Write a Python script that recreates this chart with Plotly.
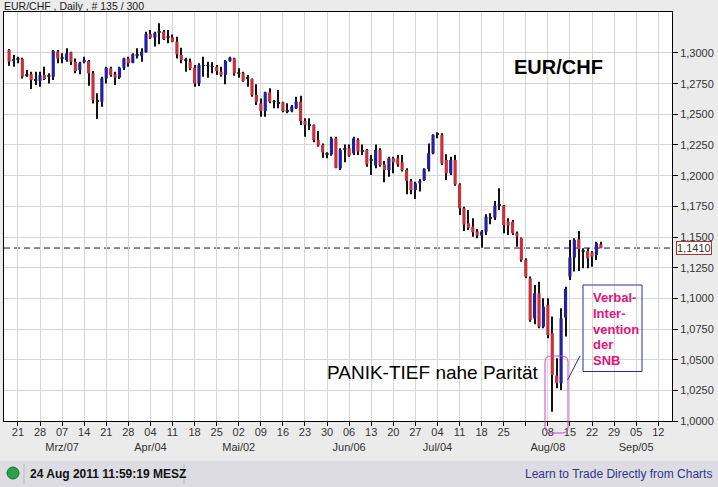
import plotly.graph_objects as go
import pandas as pd

# ---------------- data ----------------
start_date = "2011-02-17"
end_date = "2011-08-24"
axis_end_date = "2011-09-16"

open_ = [1.3024, 1.2935, 1.2952, 1.2951, 1.2820, 1.2826, 1.2782, 1.2771, 1.2820, 1.2806,
         1.2807, 1.3011, 1.2958, 1.2943, 1.3005, 1.2929, 1.2861, 1.2930, 1.2935, 1.2834,
         1.2610, 1.2603, 1.2793, 1.2875, 1.2826, 1.2799, 1.2880, 1.2956, 1.2921, 1.2978,
         1.2978, 1.3005, 1.3155, 1.3125, 1.3174, 1.3174, 1.3130, 1.3128, 1.3092, 1.2984,
         1.2945, 1.2929, 1.2880, 1.2752, 1.2899, 1.2899, 1.2886, 1.2888, 1.2848, 1.2821,
         1.2935, 1.2956, 1.2836, 1.2834, 1.2795, 1.2788, 1.2658, 1.2590, 1.2527, 1.2679,
         1.2605, 1.2592, 1.2598, 1.2529, 1.2527, 1.2549, 1.2603, 1.2446, 1.2415, 1.2413,
         1.2291, 1.2250, 1.2179, 1.2174, 1.2304, 1.2060, 1.2215, 1.2223, 1.2182, 1.2291,
         1.2199, 1.2209, 1.2130, 1.2082, 1.2209, 1.2092, 1.2046, 1.2141, 1.2141, 1.2109,
         1.2046, 1.1957, 1.1883, 1.1938, 1.1965, 1.2054, 1.2182, 1.2335, 1.2331, 1.2128,
         1.2019, 1.2128, 1.1929, 1.1734, 1.1612, 1.1584, 1.1544, 1.1511, 1.1544, 1.1650,
         1.1658, 1.1763, 1.1755, 1.1625, 1.1625, 1.1530, 1.1489, 1.1313, 1.1163, 1.0837,
         1.1041, 1.0769, 1.0946, 1.0715, 1.0370, 1.0307, 1.0843, 1.1177, 1.1332, 1.1481,
         1.1388, 1.1386, 1.1375, 1.1353, 1.1440]
high_ = [1.3033, 1.2984, 1.2970, 1.2962, 1.2861, 1.2848, 1.2848, 1.2848, 1.2888, 1.2834,
         1.3024, 1.3024, 1.2997, 1.3038, 1.3011, 1.2956, 1.2929, 1.2970, 1.2943, 1.2853,
         1.2671, 1.2807, 1.2888, 1.2888, 1.2848, 1.2888, 1.2962, 1.2970, 1.2997, 1.3038,
         1.3038, 1.3174, 1.3188, 1.3174, 1.3242, 1.3188, 1.3188, 1.3150, 1.3133, 1.3043,
         1.2962, 1.2956, 1.2902, 1.2916, 1.2970, 1.2929, 1.2924, 1.2902, 1.2888, 1.2943,
         1.2970, 1.2962, 1.2875, 1.2848, 1.2821, 1.2793, 1.2745, 1.2630, 1.2685, 1.2712,
         1.2617, 1.2698, 1.2603, 1.2590, 1.2576, 1.2644, 1.2652, 1.2467, 1.2467, 1.2418,
         1.2364, 1.2263, 1.2190, 1.2318, 1.2318, 1.2223, 1.2255, 1.2255, 1.2318, 1.2304,
         1.2255, 1.2217, 1.2168, 1.2255, 1.2223, 1.2120, 1.2155, 1.2155, 1.2168, 1.2168,
         1.2060, 1.1973, 1.1951, 1.1973, 1.2060, 1.2263, 1.2337, 1.2353, 1.2345, 1.2174,
         1.2155, 1.2168, 1.1938, 1.1747, 1.1720, 1.1652, 1.1565, 1.1557, 1.1685, 1.1693,
         1.1794, 1.1897, 1.1761, 1.1652, 1.1639, 1.1544, 1.1495, 1.1326, 1.1177, 1.1109,
         1.1136, 1.1000, 1.1000, 1.0851, 1.0511, 1.0919, 1.1095, 1.1476, 1.1489, 1.1549,
         1.1408, 1.1408, 1.1386, 1.1462, 1.1462]
low_ = [1.2897, 1.2888, 1.2916, 1.2793, 1.2807, 1.2706, 1.2739, 1.2725, 1.2780, 1.2752,
        1.2780, 1.2916, 1.2916, 1.2929, 1.2902, 1.2834, 1.2826, 1.2916, 1.2733, 1.2589,
        1.2461, 1.2562, 1.2752, 1.2807, 1.2739, 1.2788, 1.2861, 1.2888, 1.2916, 1.2956,
        1.2929, 1.3005, 1.3114, 1.3052, 1.3071, 1.3106, 1.3079, 1.3087, 1.2956, 1.2916,
        1.2848, 1.2861, 1.2725, 1.2731, 1.2807, 1.2799, 1.2834, 1.2821, 1.2807, 1.2745,
        1.2929, 1.2815, 1.2799, 1.2766, 1.2725, 1.2644, 1.2576, 1.2481, 1.2481, 1.2590,
        1.2549, 1.2549, 1.2516, 1.2508, 1.2516, 1.2543, 1.2413, 1.2318, 1.2372, 1.2272,
        1.2236, 1.2147, 1.2141, 1.2163, 1.2060, 1.2046, 1.2109, 1.2155, 1.2168, 1.2168,
        1.2168, 1.2073, 1.2005, 1.2060, 1.2073, 1.1946, 1.1992, 1.2019, 1.2073, 1.2033,
        1.1848, 1.1848, 1.1810, 1.1870, 1.1957, 1.2033, 1.2174, 1.2304, 1.2087, 1.1965,
        1.2005, 1.1918, 1.1679, 1.1549, 1.1557, 1.1503, 1.1489, 1.1413, 1.1516, 1.1603,
        1.1639, 1.1720, 1.1530, 1.1516, 1.1516, 1.1421, 1.1299, 1.1163, 1.0810, 1.0788,
        1.0756, 1.0756, 1.0674, 1.0076, 1.0267, 1.0253, 1.0688, 1.1150, 1.1218, 1.1223,
        1.1245, 1.1245, 1.1258, 1.1313, 1.1408]
close_ = [1.2929, 1.2948, 1.2949, 1.2807, 1.2816, 1.2780, 1.2778, 1.2820, 1.2788, 1.2809,
          1.3016, 1.2956, 1.2954, 1.2997, 1.2929, 1.2853, 1.2916, 1.2937, 1.2834, 1.2616,
          1.2605, 1.2793, 1.2880, 1.2820, 1.2799, 1.2880, 1.2956, 1.2916, 1.2989, 1.2982,
          1.3011, 1.3155, 1.3125, 1.3160, 1.3170, 1.3114, 1.3127, 1.3092, 1.2989, 1.2943,
          1.2940, 1.2875, 1.2752, 1.2902, 1.2895, 1.2895, 1.2890, 1.2853, 1.2821, 1.2935,
          1.2962, 1.2834, 1.2832, 1.2772, 1.2791, 1.2658, 1.2603, 1.2527, 1.2679, 1.2603,
          1.2601, 1.2588, 1.2527, 1.2525, 1.2562, 1.2603, 1.2446, 1.2413, 1.2411, 1.2291,
          1.2245, 1.2190, 1.2175, 1.2304, 1.2065, 1.2209, 1.2219, 1.2163, 1.2304, 1.2196,
          1.2203, 1.2092, 1.2125, 1.2209, 1.2087, 1.2046, 1.2141, 1.2109, 1.2092, 1.2046,
          1.1957, 1.1883, 1.1938, 1.1957, 1.2054, 1.2182, 1.2331, 1.2339, 1.2101, 1.2019,
          1.2128, 1.1929, 1.1734, 1.1603, 1.1576, 1.1538, 1.1511, 1.1544, 1.1666, 1.1654,
          1.1755, 1.1759, 1.1598, 1.1592, 1.1530, 1.1503, 1.1313, 1.1177, 1.0824, 1.1041,
          1.0769, 1.0932, 1.0701, 1.0375, 1.0307, 1.0837, 1.1076, 1.1332, 1.1476, 1.1402,
          1.1384, 1.1326, 1.1340, 1.1449, 1.1410]

last_price = 1.1410

tick_labels = ["21", "28", "07", "14", "21", "28", "04", "11", "18", "25",
               "02", "09", "16", "23", "30", "06", "13", "20", "27", "04",
               "11", "18", "25", "", "08", "15", "22", "29", "05", "12"]
month_labels = ["", "", "Mrz/07", "", "", "", "Apr/04", "", "", "",
                "Mai/02", "", "", "", "", "Jun/06", "", "", "", "Jul/04",
                "", "", "", "", "Aug/08", "", "", "", "Sep/05", ""]

y_tick_vals = [1.0, 1.025, 1.05, 1.075, 1.1, 1.125, 1.15, 1.175,
               1.2, 1.225, 1.25, 1.275, 1.3]

# ---------------- derived ----------------
days = pd.bdate_range(start_date, end_date)
idx = list(range(len(days)))
axis_days = pd.bdate_range(start_date, axis_end_date)
monday_idx = [i for i, d in enumerate(axis_days) if d.weekday() == 0]
tick_text = [t + ("<br>" + m if m else "<br> ") for t, m in zip(tick_labels, month_labels)]

RED = "#c8303a"
BLUE = "#22229c"
body_base = [min(o, c) for o, c in zip(open_, close_)]
body_h = [max(abs(c - o), 0.0007) for o, c in zip(open_, close_)]
body_col = []
for o, c in zip(open_, close_):
    if abs(c - o) < 0.0006:
        body_col.append("#222222")
    elif c > o:
        body_col.append(BLUE)
    else:
        body_col.append(RED)

# layout geometry (pixels)
W, H = 718, 487
PL, PR, PT, PB = 4, 672, 12, 421


def xp(px):
    return (px - PL) / (PR - PL)


def yp(py):
    return (PB - py) / (PB - PT)


FONT = "Liberation Sans, Arial, sans-serif"

fig = go.Figure()
fig.add_trace(go.Bar(x=idx, base=low_, y=[h - l for h, l in zip(high_, low_)],
                     width=0.23, marker=dict(color="#111111", line=dict(width=0)),
                     hoverinfo="skip", showlegend=False))
fig.add_trace(go.Bar(x=idx, base=body_base, y=body_h, width=0.72,
                     marker=dict(color=body_col, line=dict(width=0)),
                     showlegend=False))

fig.update_layout(
    width=W, height=H,
    margin=dict(l=PL, r=W - PR, t=PT, b=H - PB, pad=0),
    paper_bgcolor="#ebebeb", plot_bgcolor="white",
    barmode="overlay", separators=",.",
    font=dict(family=FONT, size=11, color="#333333"),
    xaxis=dict(range=[(PL - 9.1) / 4.416, (PR - 9.1) / 4.416],
               tickmode="array", tickvals=monday_idx, ticktext=tick_text, tickangle=0,
               ticklabelstandoff=-3,
               showgrid=True, gridcolor="#d6d6d6", gridwidth=1,
               showline=True, linecolor="#000000", linewidth=1, mirror=True,
               ticks="outside", ticklen=4, tickcolor="#000000",
               tickfont=dict(family=FONT, size=11, color="#333333"),
               zeroline=False, fixedrange=True, automargin=False),
    yaxis=dict(range=[1.0, 1.0 + (PB - PT) / 1226.7], side="right",
               tickmode="array", tickvals=y_tick_vals, tickformat=".4f",
               showgrid=True, gridcolor="#d6d6d6", gridwidth=1,
               showline=True, linecolor="#000000", linewidth=1, mirror=True,
               ticks="outside", ticklen=5, tickcolor="#000000",
               tickfont=dict(family=FONT, size=11, color="#333333"),
               zeroline=False, fixedrange=True, automargin=False),
)

shapes = []
# status bar
shapes.append(dict(type="rect", xref="paper", yref="paper", x0=xp(0), x1=xp(W),
                   y0=yp(H), y1=yp(461), fillcolor="#dcdce2", line=dict(width=0), layer="below"))
shapes.append(dict(type="line", xref="paper", yref="paper", x0=xp(24), x1=xp(24),
                   y0=yp(464), y1=yp(484), line=dict(color="#b8b8c0", width=1)))
shapes.append(dict(type="line", xref="paper", yref="paper", x0=xp(184), x1=xp(184),
                   y0=yp(464), y1=yp(484), line=dict(color="#b8b8c0", width=1)))
shapes.append(dict(type="circle", xref="paper", yref="paper", x0=xp(7), x1=xp(19),
                   y0=yp(479), y1=yp(467), fillcolor="#2ea04a", line=dict(color="#17702c", width=1)))
# last price dashed line
shapes.append(dict(type="line", xref="paper", yref="y", x0=0, x1=1, y0=last_price, y1=last_price,
                   line=dict(color="#101060", width=1, dash="6px,4px"), layer="between"))
# magenta rounded frame around the panic low
x0, x1, ytop, ybot, r = 545, 568, 356, 433, 6
path = (f"M {xp(x0)},{yp(ytop + r)} Q {xp(x0)},{yp(ytop)} {xp(x0 + r)},{yp(ytop)} "
        f"L {xp(x1 - r)},{yp(ytop)} Q {xp(x1)},{yp(ytop)} {xp(x1)},{yp(ytop + r)} "
        f"L {xp(x1)},{yp(ybot - r)} Q {xp(x1)},{yp(ybot)} {xp(x1 - r)},{yp(ybot)} "
        f"L {xp(x0 + r)},{yp(ybot)} Q {xp(x0)},{yp(ybot)} {xp(x0)},{yp(ybot - r)} Z")
shapes.append(dict(type="path", xref="paper", yref="paper", path=path,
                   line=dict(color="#cc44cc", width=1)))
# blue box + connector
shapes.append(dict(type="rect", xref="paper", yref="paper", x0=xp(583), x1=xp(642),
                   y0=yp(371.5), y1=yp(285), line=dict(color="#2a2aa0", width=1)))
shapes.append(dict(type="line", xref="paper", yref="paper", x0=xp(567.5), x1=xp(580),
                   y0=yp(380), y1=yp(356), line=dict(color="#2a2aa0", width=1)))
fig.update_layout(shapes=shapes)

ann = []
ann.append(dict(text="EUR/CHF , Daily , # 135 / 300", xref="paper", yref="paper",
                x=xp(2), y=yp(6.5), xanchor="left", yanchor="middle", showarrow=False,
                font=dict(family=FONT, size=10.5, color="#1a1a1a")))
ann.append(dict(text="<b>EUR/CHF</b>", xref="paper", yref="paper",
                x=xp(558.5), y=yp(67), xanchor="center", yanchor="middle", showarrow=False,
                font=dict(family=FONT, size=20, color="#000000")))
ann.append(dict(text="PANIK-TIEF nahe Parität", xref="paper", yref="paper",
                x=xp(541), y=yp(372), xanchor="right", yanchor="middle", showarrow=False,
                font=dict(family=FONT, size=19, color="#000000")))
for line_txt, py in zip(["Verbal-", "Inter-", "vention", "der", "SNB"],
                        [297, 313, 329, 344.5, 360]):
    ann.append(dict(text="<b>" + line_txt + "</b>", xref="paper", yref="paper",
                    x=xp(591), y=yp(py), xanchor="left", yanchor="middle", showarrow=False,
                    font=dict(family=FONT, size=13, color="#e0157a")))
ann.append(dict(text="1,1410", xref="paper", yref="y", x=xp(676), y=last_price,
                xanchor="left", yanchor="middle", showarrow=False,
                bgcolor="white", bordercolor="#b03030", borderwidth=1, borderpad=0,
                font=dict(family=FONT, size=11, color="#333333")))
ann.append(dict(text="<b>24 Aug 2011 11:59:19 MESZ</b>", xref="paper", yref="paper",
                x=xp(28), y=yp(474), xanchor="left", yanchor="middle", showarrow=False,
                font=dict(family=FONT, size=12, color="#111111")))
ann.append(dict(text="Learn to Trade Directly from Charts", xref="paper", yref="paper",
                x=xp(714), y=yp(474), xanchor="right", yanchor="middle", showarrow=False,
                font=dict(family=FONT, size=12, color="#34348a")))
fig.update_layout(annotations=ann)

fig.write_html("out.html", config={"displayModeBar": False},
               post_script="document.body.style.margin='0';document.body.style.overflow='hidden';")
